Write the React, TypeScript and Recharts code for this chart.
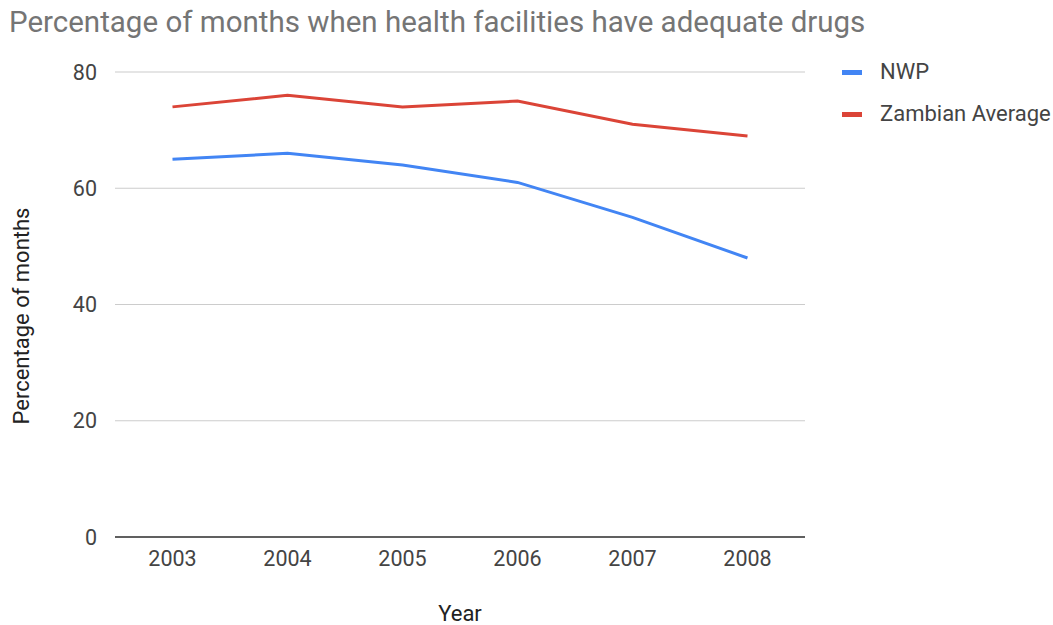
import React from 'react';
import { LineChart, Line, XAxis, YAxis, CartesianGrid } from 'recharts';

const years = ['2003', '2004', '2005', '2006', '2007', '2008'];
const nwp = [65, 66, 64, 61, 55, 48];
const zambian = [74, 76, 74, 75, 71, 69];
const yTicks = [0, 20, 40, 60, 80];
const seriesNames = ['NWP', 'Zambian Average'];
const seriesColors = ['#4285F4', '#DB4437'];

const data = years.map((y, i) => ({ year: y, [seriesNames[0]]: nwp[i], [seriesNames[1]]: zambian[i] }));

const FONT = 'Roboto, "Noto Sans", sans-serif';
const TICK_SIZE = 21.5;

const YTick = (props: any) => {
  const { x, y, payload } = props;
  return (
    <text x={x} y={y} dy="0.35em" textAnchor="end" fontFamily={FONT} fontSize={TICK_SIZE} fill="#444">
      {payload.value}
    </text>
  );
};

const XTick = (props: any) => {
  const { x, y, payload } = props;
  return (
    <text x={x} y={y + 13} dy="0.35em" textAnchor="middle" fontFamily={FONT} fontSize={TICK_SIZE} fill="#444">
      {payload.value}
    </text>
  );
};

export default function App() {
  return (
    <div style={{ position: 'absolute', left: 0, top: 0, width: 1053, height: 625, background: '#fff', fontFamily: FONT }}>
      <div style={{ position: 'absolute', left: 9, top: 8, fontSize: 29.5, lineHeight: 1, color: '#757575', whiteSpace: 'nowrap' }}>
        Percentage of months when health facilities have adequate drugs
      </div>
      <div
        style={{
          position: 'absolute',
          left: 22,
          top: 316,
          transform: 'translate(-50%, -50%) rotate(-90deg)',
          fontSize: 22,
          lineHeight: 1,
          color: '#222',
          whiteSpace: 'nowrap',
        }}
      >
        Percentage of months
      </div>
      <div
        style={{
          position: 'absolute',
          left: 460,
          top: 614,
          transform: 'translate(-50%, -50%)',
          fontSize: 22,
          lineHeight: 1,
          color: '#222',
          whiteSpace: 'nowrap',
        }}
      >
        Year
      </div>
      <div style={{ position: 'absolute', left: 842, top: 51 }}>
        {seriesNames.map((name, i) => (
          <div key={name} style={{ display: 'flex', alignItems: 'center', height: 42 }}>
            <div style={{ width: 20, height: 5, background: seriesColors[i], marginRight: 18 }} />
            <span style={{ fontSize: 22, color: '#444', lineHeight: 1, whiteSpace: 'nowrap' }}>{name}</span>
          </div>
        ))}
      </div>
      <LineChart width={1053} height={625} data={data} margin={{ top: 72, right: 248, bottom: 0, left: 0 }}>
        <CartesianGrid horizontal vertical={false} stroke="#ccc" strokeWidth={1.2} />
        <XAxis
          dataKey="year"
          height={88}
          tickLine={false}
          axisLine={{ stroke: '#333', strokeWidth: 1.6 }}
          padding={{ left: 57.5, right: 57.5 }}
          tick={<XTick />}
          interval={0}
        />
        <YAxis
          width={115}
          domain={[0, 80]}
          ticks={yTicks}
          axisLine={false}
          tickLine={false}
          tick={<YTick />}
          tickMargin={12}
        />
        {seriesNames.map((name, i) => (
          <Line
            key={name}
            type="linear"
            dataKey={name}
            stroke={seriesColors[i]}
            strokeWidth={3}
            dot={false}
            isAnimationActive={false}
          />
        ))}
      </LineChart>
    </div>
  );
}
